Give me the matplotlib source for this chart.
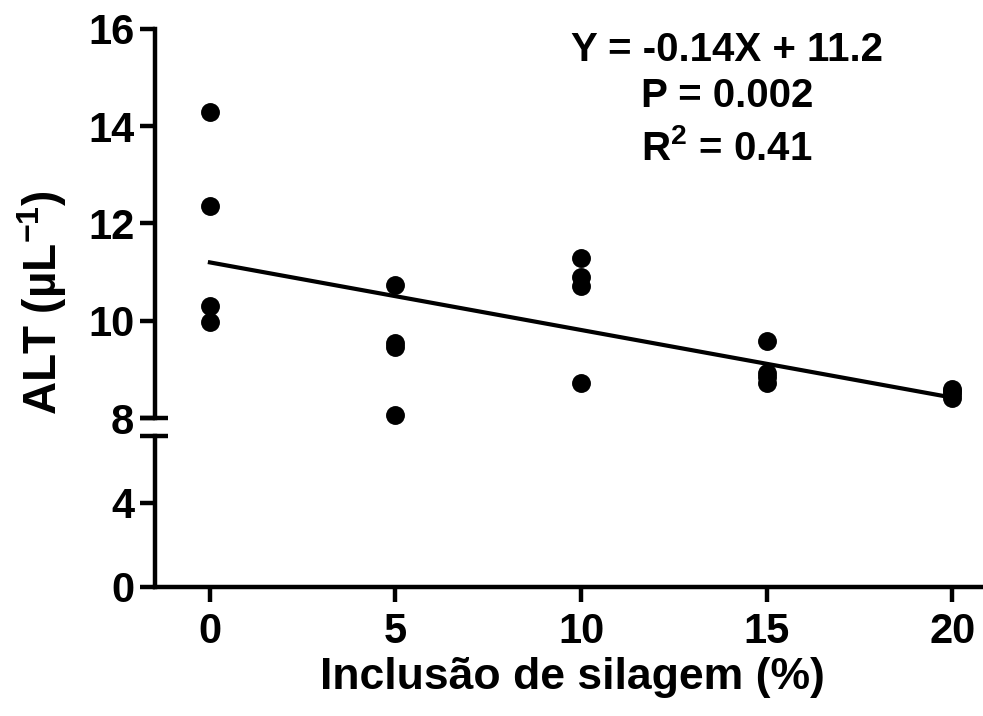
import matplotlib
matplotlib.use("Agg")
import matplotlib.pyplot as plt

plt.rcParams.update({"font.family": "Liberation Sans", "font.weight": "bold",
                     "mathtext.fontset": "custom", "mathtext.rm": "Liberation Sans:bold",
                     "mathtext.bf": "Liberation Sans:bold", "mathtext.it": "Liberation Sans:bold",
                     "axes.linewidth": 3.2})

# datos
inclusao = [0]*4 + [5]*4 + [10]*4 + [15]*4 + [20]*4
alt = [14.30, 12.35, 10.30, 9.98,
       10.73, 9.55, 9.47, 8.06,
       11.29, 10.91, 10.71, 8.73,
       9.59, 8.92, 8.85, 8.73,
       8.60, 8.55, 8.50, 8.42]
reta_x = [0, 20]
reta_y = [11.2, 8.42]
xticks = [0, 5, 10, 15, 20]
yticks_top = [8, 10, 12, 14, 16]
yticks_bot = [0, 4]

W, H = 983, 716
fig = plt.figure(figsize=(W/100, H/100), dpi=100)
L = 155/W
ax = fig.add_axes([L, (H-418)/H, 1-L, 389/H])
axb = fig.add_axes([L, (H-587)/H, 1-L, 151/H])

for a in (ax, axb):
    a.spines["top"].set_visible(False)
    a.spines["right"].set_visible(False)
    a.set_xlim(-1.48, 20.83)
    a.tick_params(width=3.2, length=11, labelsize=30, direction="out")
    a.patch.set_alpha(0)

ax.spines["bottom"].set_visible(False)
ax.set_ylim(8, 16)
ax.set_yticks(yticks_top)
ax.set_xticks([])
ax.tick_params(axis="y", pad=4)

axb.set_ylim(0, 7.19)
axb.set_yticks(yticks_bot)
axb.set_xticks(xticks)
axb.tick_params(axis="y", pad=4)
axb.tick_params(axis="x", pad=7)

ax.scatter(inclusao, alt, s=185, color="black", zorder=3, clip_on=False, linewidths=0)
ax.plot(reta_x, reta_y, color="black", lw=3)

# marcas de quebra do eixo
ax.plot([-0.018, 0.016], [0, 0], transform=ax.transAxes, color="black", lw=3.2,
        clip_on=False, solid_capstyle="butt")
axb.plot([-0.018, 0.016], [1, 1], transform=axb.transAxes, color="black", lw=3.2,
         clip_on=False, solid_capstyle="butt")

ax.text(13.93, 15.57, "Y = -0.14X + 11.2", ha="center", va="center", fontsize=29)
ax.text(13.93, 14.62, "P = 0.002", ha="center", va="center", fontsize=29)
ax.text(13.93, 13.55, r"R$^2$ = 0.41", ha="center", va="center", fontsize=29)

fig.text(42/W, 1-303/H, r"ALT (µL$^{-1}$)", rotation=90, ha="center", va="center", fontsize=33)
fig.text(572/W, 1-677/H, "Inclusão de silagem (%)", ha="center", va="center", fontsize=32)

fig.savefig("out.png", dpi=100)
